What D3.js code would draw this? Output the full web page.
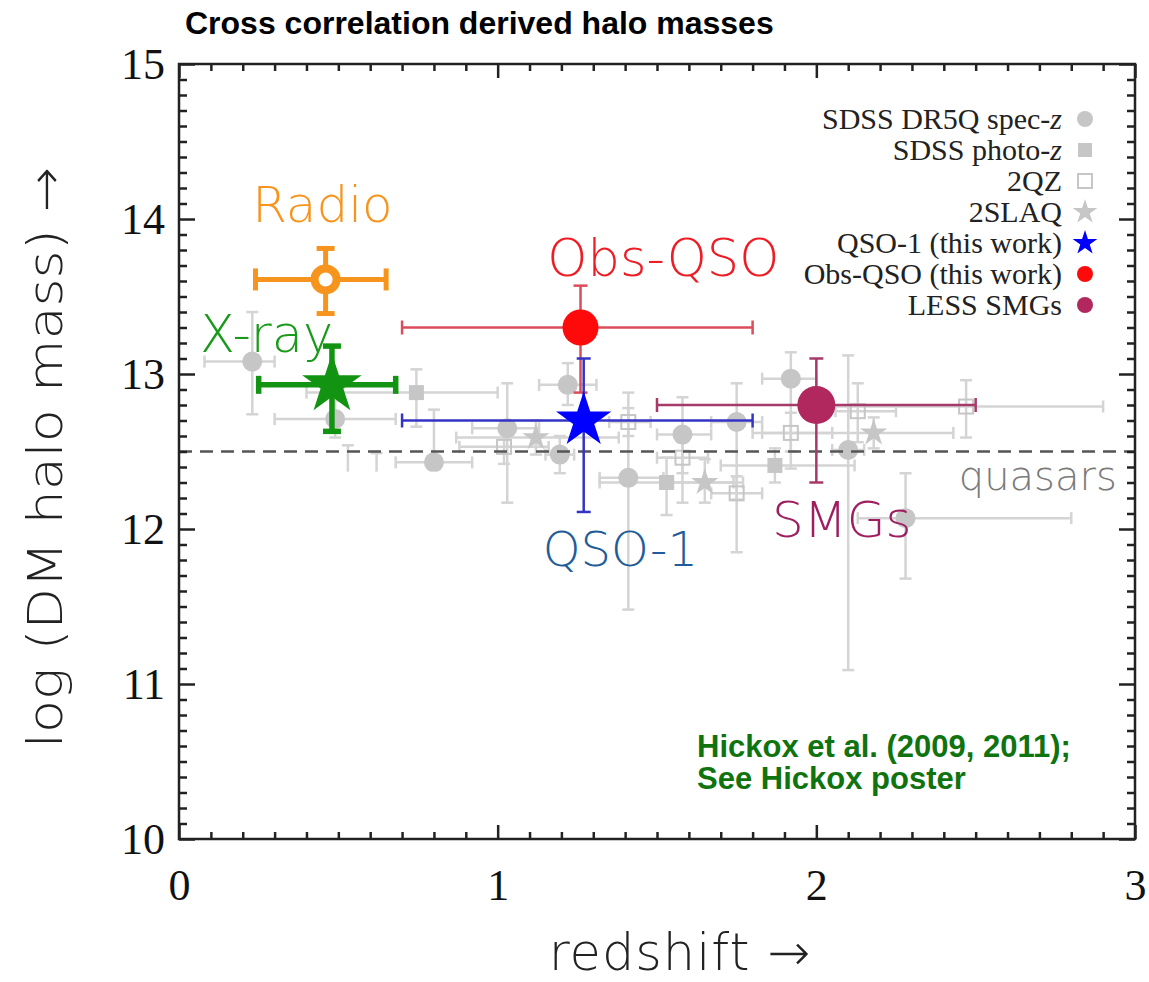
<!DOCTYPE html>
<html>
<head>
<meta charset="utf-8">
<script src="https://cdn.jsdelivr.net/npm/d3@7"></script>
<style>
  html, body { margin: 0; padding: 0; background: #fff; }
  svg { display: block; }
</style>
</head>
<body>
<svg id="chart" width="1149" height="982"></svg>
<script>
// ---- text ----
const title = "Cross correlation derived halo masses";
const xTitle = "redshift \u2192";
const yTitle = "log (DM halo mass) \u2192";
const creditLines = ["Hickox et al. (2009, 2011);", "See Hickox poster"];

// ---- axis ticks ----
const zTicks = [0, 1, 2, 3];
const mTicks = [10, 11, 12, 13, 14, 15];

// ---- literature samples: [z, log M, z low, z high, log M low, log M high] ----
const sdssSpec = [
  [0.23, 13.08, 0.08, 0.30, 12.74, 13.40],
  [0.49, 12.71, 0.30, 0.68, 12.59, 12.83],
  [0.53, 12.15, 0.49, 0.57, 11.80, 12.54],
  [0.62, 12.10, 0.58, 0.66, 11.75, 12.49],
  [0.80, 12.43, 0.68, 0.92, 12.09, 12.77],
  [1.03, 12.65, 0.92, 1.13, 12.17, 12.94],
  [1.22, 12.93, 1.13, 1.31, 12.80, 13.07],
  [1.195, 12.48, 1.15, 1.24, 12.36, 12.60],
  [1.41, 12.33, 1.32, 1.52, 11.48, 12.88],
  [1.58, 12.61, 1.50, 1.67, 12.17, 12.85],
  [1.75, 12.69, 1.67, 1.83, 11.85, 12.94],
  [1.92, 12.97, 1.83, 2.00, 12.39, 13.14],
  [2.10, 12.51, 2.05, 2.15, 11.09, 13.12],
  [2.28, 12.07, 2.13, 2.80, 11.68, 12.36]
];
const sdssPhoto = [
  [0.745, 12.88, 0.40, 1.00, 12.66, 13.03],
  [1.53, 12.30, 1.32, 1.74, 12.09, 12.46],
  [1.87, 12.41, 1.70, 2.12, 12.30, 12.52]
];
const twoQZ = [
  [1.02, 12.53, 0.88, 1.16, 12.42, 12.64],
  [1.41, 12.69, 1.35, 1.48, 12.60, 12.78],
  [1.58, 12.46, 1.50, 1.66, 12.36, 12.56],
  [1.75, 12.23, 1.67, 1.83, 12.19, 12.34],
  [1.92, 12.62, 1.80, 2.05, 12.50, 12.75],
  [2.13, 12.76, 2.06, 2.25, 12.56, 12.94],
  [2.47, 12.79, 2.02, 2.90, 12.59, 12.96]
];
const twoSLAQ = [
  [1.12, 12.59, 0.87, 1.38, 12.48, 12.70],
  [1.65, 12.30, 1.55, 1.77, 12.17, 12.45],
  [2.18, 12.62, 1.83, 2.43, 12.52, 12.72]
];

// ---- highlighted samples ----
const radio  = [[0.46, 13.61, 0.24, 0.65, 13.39, 13.81]];
const xray   = [[0.48, 12.93, 0.25, 0.68, 12.63, 13.18]];
const obsQSO = [[1.26, 13.30, 0.70, 1.80, 12.88, 13.57]];
const qso1   = [[1.27, 12.70, 0.70, 1.80, 12.11, 13.10]];
const smgs   = [[2.00, 12.80, 1.50, 2.50, 12.30, 13.10]];

// typical quasar halo mass
const quasarLevel = [12.5];

// ---- legend ----
const legendLabels = ["SDSS DR5Q spec-", "SDSS photo-", "2QZ", "2SLAQ",
                      "QSO-1 (this work)", "Obs-QSO (this work)", "LESS SMGs"];
const legendItalic = ["z", "z", "", "", "", "", ""];

// ---- sample labels ----
const sampleNames = ["Radio", "X-ray", "Obs-QSO", "QSO-1", "SMGs", "quasars"];

// ================= drawing =================
const W = 1149, H = 982;
const x = d3.scaleLinear().domain([0, 3]).range([179, 1135]);
const y = d3.scaleLinear().domain([10, 15]).range([839, 64]);

const svg = d3.select("#chart");
svg.append("rect").attr("width", W).attr("height", H).attr("fill", "#fff");

const GRAY = "#c6c6c6", GRAY_BAR = "#d4d4d4";
const SERIF = "'Liberation Serif', 'Times New Roman', serif";
const SANS = "'Liberation Sans', Arial, sans-serif";
const ROUND = "'DejaVu Sans', sans-serif";

function errBars(g, data, o) {
  const sel = g.append("g").attr("stroke", o.color).attr("stroke-width", o.width)
    .attr("fill", "none").attr("opacity", o.opacity || 1);
  data.forEach(([z, m, z0, z1, m0, m1]) => {
    sel.append("line").attr("x1", x(z0)).attr("x2", x(z1)).attr("y1", y(m)).attr("y2", y(m));
    sel.append("line").attr("x1", x(z)).attr("x2", x(z)).attr("y1", y(m0)).attr("y2", y(m1));
    [z0, z1].forEach(v => sel.append("line")
      .attr("x1", x(v)).attr("x2", x(v)).attr("y1", y(m) - o.capX).attr("y2", y(m) + o.capX));
    [m0, m1].forEach(v => sel.append("line")
      .attr("x1", x(z) - o.capY).attr("x2", x(z) + o.capY).attr("y1", y(v)).attr("y2", y(v)));
  });
}

function markers(g, data, type, o) {
  const sel = g.append("g");
  if (type === "circle") {
    sel.selectAll("circle").data(data).join("circle")
      .attr("cx", d => x(d[0])).attr("cy", d => y(d[1])).attr("r", o.r)
      .attr("fill", o.fill).attr("stroke", o.stroke || "none").attr("stroke-width", o.sw || 0);
  } else if (type === "square" || type === "open") {
    sel.selectAll("rect").data(data).join("rect")
      .attr("x", d => x(d[0]) - o.s / 2).attr("y", d => y(d[1]) - o.s / 2)
      .attr("width", o.s).attr("height", o.s)
      .attr("fill", type === "open" ? "none" : o.fill)
      .attr("stroke", type === "open" ? o.fill : "none").attr("stroke-width", o.sw || 0);
  } else if (type === "star") {
    const p = d3.symbol(d3.symbolStar, o.size)();
    sel.selectAll("path").data(data).join("path")
      .attr("d", p).attr("transform", d => `translate(${x(d[0])},${y(d[1])})`)
      .attr("fill", o.fill);
  }
}

// ---- literature points ----
const lit = svg.append("g");
const grayBar = { color: GRAY_BAR, width: 2.5, capX: 6, capY: 6 };
[sdssSpec, sdssPhoto, twoQZ, twoSLAQ].forEach(d => errBars(lit, d, grayBar));
markers(lit, sdssSpec, "circle", { r: 10, fill: GRAY });
markers(lit, sdssPhoto, "square", { s: 15, fill: GRAY });
markers(lit, twoQZ, "open", { s: 14, fill: GRAY, sw: 2 });
markers(lit, twoSLAQ, "star", { size: 230, fill: GRAY });

// blank the lower-left part of the panel
svg.append("rect")
  .attr("x", x(0.06)).attr("y", y(12.37))
  .attr("width", x(1.0) - x(0.06)).attr("height", y(10.04) - y(12.37))
  .attr("fill", "#fff");

// ---- quasar reference level ----
svg.append("g").selectAll("line").data(quasarLevel).join("line")
  .attr("x1", x(0)).attr("x2", x(3)).attr("y1", d => y(d)).attr("y2", d => y(d))
  .attr("stroke", "#555").attr("stroke-width", 2.5).attr("stroke-dasharray", "13,8");

// ---- highlighted samples ----
const hi = svg.append("g");
errBars(hi, obsQSO, { color: "#dd4c5a", width: 2.5, capX: 7, capY: 7 });
errBars(hi, smgs, { color: "#a63a68", width: 2.5, capX: 7, capY: 7 });
errBars(hi, qso1, { color: "#3434c4", width: 2.5, capX: 7, capY: 7 });
errBars(hi, radio, { color: "#f7941d", width: 5, capX: 11, capY: 9 });
errBars(hi, xray, { color: "#129412", width: 5.5, capX: 9, capY: 9 });

markers(hi, obsQSO, "circle", { r: 18, fill: "#ff0a0a" });
markers(hi, smgs, "circle", { r: 19, fill: "#b0285e" });
markers(hi, qso1, "star", { size: 950, fill: "#0000ff" });
markers(hi, radio, "circle", { r: 11, fill: "#fff", stroke: "#f7941d", sw: 8 });
markers(hi, xray, "star", { size: 1100, fill: "#129412" });

// ---- frame and axes ----
const axes = svg.append("g").attr("font-family", SERIF);
const minorZ = d3.range(1, 30).filter(i => i % 10).map(i => i / 10);
const minorM = d3.range(101, 150).filter(i => i % 10).map(i => i / 10);

function styleAxis(g) {
  g.select(".domain").remove();
  g.selectAll(".tick line").attr("stroke", "#222").attr("stroke-width", 2.5);
  g.selectAll(".tick text").attr("fill", "#111").attr("font-size", 44).attr("font-family", SERIF);
}
axes.append("g").attr("transform", `translate(0,${y(10)})`)
  .call(d3.axisBottom(x).tickValues(zTicks).tickSize(-14).tickPadding(30).tickFormat(d3.format("d")))
  .call(styleAxis);
axes.append("g").attr("transform", `translate(0,${y(10)})`)
  .call(d3.axisBottom(x).tickValues(minorZ).tickSize(-7).tickFormat(""))
  .call(styleAxis);
axes.append("g").attr("transform", `translate(0,${y(15)})`)
  .call(d3.axisTop(x).tickValues(zTicks).tickSize(-14).tickFormat(""))
  .call(styleAxis);
axes.append("g").attr("transform", `translate(0,${y(15)})`)
  .call(d3.axisTop(x).tickValues(minorZ).tickSize(-7).tickFormat(""))
  .call(styleAxis);
axes.append("g").attr("transform", `translate(${x(0)},0)`)
  .call(d3.axisLeft(y).tickValues(mTicks).tickSize(-16).tickPadding(14).tickFormat(d3.format("d")))
  .call(styleAxis);
axes.append("g").attr("transform", `translate(${x(0)},0)`)
  .call(d3.axisLeft(y).tickValues(minorM).tickSize(-8).tickFormat(""))
  .call(styleAxis);
axes.append("g").attr("transform", `translate(${x(3)},0)`)
  .call(d3.axisRight(y).tickValues(mTicks).tickSize(-16).tickFormat(""))
  .call(styleAxis);
axes.append("g").attr("transform", `translate(${x(3)},0)`)
  .call(d3.axisRight(y).tickValues(minorM).tickSize(-8).tickFormat(""))
  .call(styleAxis);

svg.append("rect")
  .attr("x", x(0)).attr("y", y(15)).attr("width", x(3) - x(0)).attr("height", y(10) - y(15))
  .attr("fill", "none").attr("stroke", "#222").attr("stroke-width", 2.5);

// ---- legend ----
const legend = svg.append("g").attr("font-family", SERIF).attr("font-size", 30).attr("fill", "#222");
const legendMarkers = [
  g => g.append("circle").attr("r", 8).attr("fill", GRAY),
  g => g.append("rect").attr("x", -7).attr("y", -7).attr("width", 14).attr("height", 14).attr("fill", GRAY),
  g => g.append("rect").attr("x", -7).attr("y", -7).attr("width", 14).attr("height", 14)
        .attr("fill", "none").attr("stroke", GRAY).attr("stroke-width", 2),
  g => g.append("path").attr("d", d3.symbol(d3.symbolStar, 190)()).attr("fill", GRAY),
  g => g.append("path").attr("d", d3.symbol(d3.symbolStar, 190)()).attr("fill", "#0000ff"),
  g => g.append("circle").attr("r", 8).attr("fill", "#ff0a0a"),
  g => g.append("circle").attr("r", 8).attr("fill", "#b0285e")
];
legendLabels.forEach((lab, i) => {
  const yy = 119 + i * 31;
  const t = legend.append("text").attr("x", 1062).attr("y", yy).attr("dy", "0.33em")
    .attr("text-anchor", "end").text(lab);
  if (legendItalic[i]) t.append("tspan").attr("font-style", "italic").text(legendItalic[i]);
  legendMarkers[i](legend.append("g").attr("transform", `translate(1085,${yy})`));
});

// ---- sample labels ----
const labelPos = [
  { z: 0.45, m: 13.98, c: "#f7941d", fs: 50 },
  { z: 0.275, m: 13.14, c: "#1a9a1a", fs: 51 },
  { z: 1.52, m: 13.63, c: "#ee1c24", fs: 51 },
  { z: 1.385, m: 11.76, c: "#1f5c99", fs: 48 },
  { z: 2.08, m: 11.95, c: "#9e1f5f", fs: 50 },
  { z: 2.695, m: 12.25, c: "#7a7a7a", fs: 40 }
];
sampleNames.forEach((name, i) => {
  const p = labelPos[i];
  svg.append("text").attr("x", x(p.z)).attr("y", y(p.m)).attr("text-anchor", "middle")
    .attr("font-family", ROUND).attr("font-weight", 300).attr("font-size", p.fs)
    .attr("fill", p.c).text(name);
});

// ---- credit ----
const credit = svg.append("g").attr("font-family", SANS).attr("font-weight", "bold")
  .attr("font-size", 31).attr("fill", "#0f730f");
creditLines.forEach((s, i) => credit.append("text").attr("x", 697).attr("y", 757 + i * 32).text(s));

// ---- titles ----
svg.append("text").attr("x", 185).attr("y", 34).attr("font-family", SANS)
  .attr("font-weight", "bold").attr("font-size", 32).attr("fill", "#000").text(title);
svg.append("text").attr("x", 680).attr("y", 970).attr("text-anchor", "middle")
  .attr("font-family", ROUND).attr("font-weight", 300).attr("font-size", 51)
  .attr("letter-spacing", 1).attr("fill", "#222").text(xTitle);
svg.append("text").attr("transform", `translate(62,${458}) rotate(-90)`)
  .attr("x", -290).attr("textLength", 581).attr("lengthAdjust", "spacingAndGlyphs")
  .attr("font-family", ROUND).attr("font-weight", 300).attr("font-size", 48)
  .attr("fill", "#222").text(yTitle);
</script>
</body>
</html>
